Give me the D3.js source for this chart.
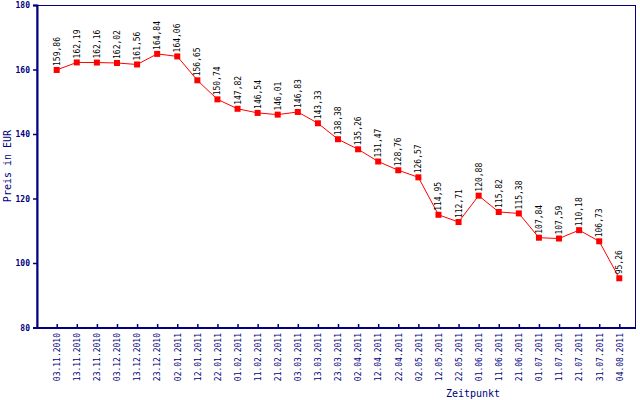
<!DOCTYPE html>
<html><head><meta charset="utf-8">
<script src="https://cdn.jsdelivr.net/npm/d3@7"></script>
<style>body{margin:0;background:#fff}svg{display:block}</style>
</head><body>
<svg id="c" width="640" height="400"></svg>
<script>
const dates = ["03.11.2010","13.11.2010","23.11.2010","03.12.2010","13.12.2010","23.12.2010","02.01.2011","12.01.2011","22.01.2011","01.02.2011","11.02.2011","21.02.2011","03.03.2011","13.03.2011","23.03.2011","02.04.2011","12.04.2011","22.04.2011","02.05.2011","12.05.2011","22.05.2011","01.06.2011","11.06.2011","21.06.2011","01.07.2011","11.07.2011","21.07.2011","31.07.2011","04.08.2011"];
const prices = [159.86,162.19,162.16,162.02,161.56,164.84,164.06,156.65,150.74,147.82,146.54,146.01,146.83,143.33,138.38,135.26,131.47,128.76,126.57,114.95,112.71,120.88,115.82,115.38,107.84,107.59,110.18,106.73,95.26];
const yTicks = [80,100,120,140,160,180];
const yTitle = "Preis in EUR";
const xTitle = "Zeitpunkt";

const navy = "#000080";
const font = "'DejaVu Sans Mono', monospace";
const L = 37, R = 636, T = 5, B = 328;
const svg = d3.select("#c");
const x = d3.scalePoint().domain(dates).range([56.7, 619.3]);
const y = d3.scaleLinear().domain([80,180]).range([327.5, 5]);

// frame
svg.append("rect").attr("x", L).attr("y", T+0.5).attr("width", R-L-0.5).attr("height", B-T-0.5)
  .attr("fill","none").attr("stroke", navy).attr("stroke-width",1);

// y axis
const ya = svg.append("g").attr("transform", `translate(${L},0)`)
  .call(d3.axisLeft(y).tickValues(yTicks).tickSize(4).tickPadding(3).tickFormat(d3.format("d")));
ya.select(".domain").attr("stroke", navy).attr("stroke-width", 2);
ya.selectAll(".tick line").attr("stroke", navy).attr("stroke-width", 1.5);
ya.selectAll("text").attr("fill", navy).style("font-family", font).style("font-size","8px").style("font-weight","bold");

// x axis
const xa = svg.append("g").attr("transform", `translate(0,${B})`)
  .call(d3.axisBottom(x).tickSize(-4).tickSizeOuter(0));
xa.select(".domain").attr("d", `M${L},0H${R}`).attr("stroke", navy).attr("stroke-width", 2);
xa.selectAll(".tick line").attr("stroke", navy).attr("stroke-width", 1.5);
xa.selectAll("text").attr("fill", navy).style("font-family", font).style("font-size","8px")
  .attr("transform","rotate(-90)").attr("text-anchor","end").attr("x",-5).attr("y",0).attr("dy","0.35em");

// titles
svg.append("text").attr("transform","translate(11,166) rotate(-90)").attr("text-anchor","middle")
  .attr("fill", navy).style("font-family", font).style("font-size","10px").text(yTitle);
svg.append("text").attr("x",473).attr("y",397).attr("text-anchor","middle")
  .attr("fill", navy).style("font-family", font).style("font-size","10px").text(xTitle);

// line
const line = d3.line().x((d,i)=>x(dates[i])).y(d=>y(d));
svg.append("path").datum(prices).attr("d", line).attr("fill","none").attr("stroke","#ff0000").attr("stroke-width",1);

svg.selectAll("rect.m").data(prices).join("rect").attr("class","m")
  .attr("x",(d,i)=>x(dates[i])-3).attr("y",d=>y(d)-3).attr("width",6).attr("height",6).attr("fill","#ff0000");

const fmt = d => d.toFixed(2).replace(".", ",");
svg.selectAll("text.v").data(prices).join("text").attr("class","v")
  .attr("transform",(d,i)=>`translate(${x(dates[i])+3},${y(d)-4}) rotate(-90)`)
  .attr("text-anchor","start").attr("fill","#000").style("font-family", font).style("font-size","8px")
  .text(fmt);
</script>
</body></html>
